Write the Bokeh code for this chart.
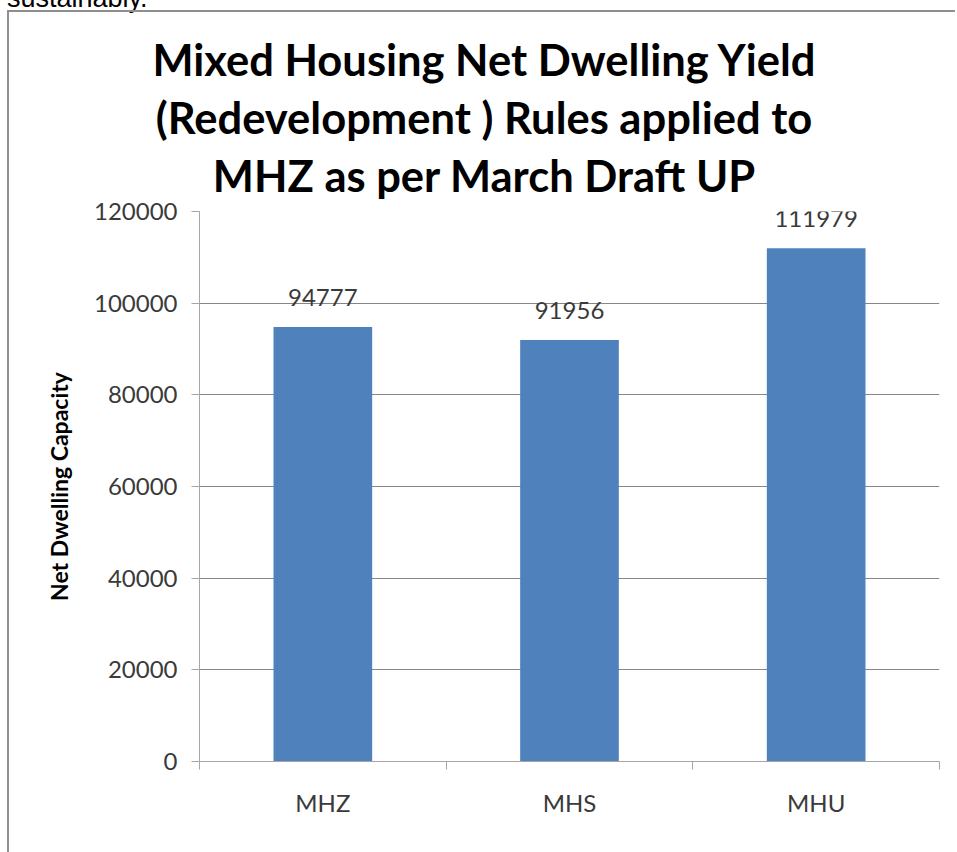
from bokeh.plotting import figure
from bokeh.layouts import column
from bokeh.models import (ColumnDataSource, FixedTicker, Range1d,
                          NumeralTickFormatter, Div)
from bokeh.core.properties import value
from bokeh.embed import file_html
from bokeh.resources import INLINE

categories = ["MHZ", "MHS", "MHU"]
values = [94777, 91956, 111979]
y_ticks = [0, 20000, 40000, 60000, 80000, 100000, 120000]
title_lines = ["Mixed Housing Net Dwelling Yield",
               "(Redevelopment ) Rules applied to",
               "MHZ as per March Draft UP"]
y_label = "Net Dwelling Capacity"
page_text = "sustainably."

Y_MAX = 120000
N = len(categories)
xpos = [i + 0.5 for i in range(N)]
bounds = [float(i) for i in range(N + 1)]
src = ColumnDataSource(dict(x=xpos, top=values, label=[str(v) for v in values]))

FONT = "Lato"
GRAY = "#a6a6a6"
TXT = "#3a3a3a"
BORDER = "2px solid #8f8f8f"

# ---- header (page text, chart border, three-line title) ----
HEAD_H = 194
title_html = "<br>".join(title_lines)
head = Div(
    text=(
        f'<div style="position:relative; width:957px; height:{HEAD_H}px; overflow:visible;">'
        f'<div style="position:absolute; left:7px; top:-17px; font-family:\'Liberation Sans\', Arial, sans-serif; '
        f'font-size:27px; line-height:30px; color:#000; white-space:nowrap;">{page_text}</div>'
        f'<div style="position:absolute; left:7px; top:10px; width:948px; height:{HEAD_H - 10}px; '
        f'border-top:{BORDER}; border-left:{BORDER};"></div>'
        f'<div style="position:absolute; left:0px; width:968px; top:30px; text-align:center; '
        f'font-family:Lato, sans-serif; font-weight:bold; font-size:43.5px; line-height:58px; '
        f'color:#000; white-space:nowrap;">{title_html}</div>'
        f'</div>'
    ),
    width=957, height=HEAD_H, margin=(0, 0, 0, 0),
    styles={"overflow": "visible"},
)

# ---- chart ----
W, H = 948, 852 - HEAD_H
ML, MR, MT, MB = 190, 18, 17, 91

p = figure(width=W, height=H, output_backend="svg", toolbar_location=None,
           x_range=Range1d(0, N), y_range=Range1d(0, Y_MAX),
           min_border_left=ML, min_border_right=MR, min_border_top=MT,
           min_border_bottom=MB, background_fill_color=None,
           border_fill_color=None)
p.outline_line_color = None
p.margin = (0, 0, 0, 7)
p.styles = {"border-left": BORDER}

p.vbar(x="x", top="top", width=0.4, source=src, fill_color="#4F81BD",
       line_color=None)
p.text(x="x", y="top", text="label", source=src, text_align="center",
       text_baseline="alphabetic", y_offset=-30, text_font=value(FONT),
       text_font_size="24px", text_color=TXT)

# x axis: labels at category centres, tick marks at category boundaries
p.xaxis.ticker = FixedTicker(ticks=xpos, minor_ticks=bounds)
p.xaxis.major_label_overrides = {xv: c for xv, c in zip(xpos, categories)}
p.xaxis.major_tick_line_color = None
p.xaxis.major_tick_out = 0
p.xaxis.major_tick_in = 0
p.xaxis.minor_tick_out = 8
p.xaxis.minor_tick_in = 0
p.xaxis.minor_tick_line_color = GRAY
p.xaxis.axis_line_color = GRAY
p.xaxis.major_label_text_font = FONT
p.xaxis.major_label_text_font_size = "24px"
p.xaxis.major_label_text_color = TXT
p.xaxis.major_label_standoff = 18
p.xgrid.grid_line_color = None

# y axis
p.yaxis.ticker = FixedTicker(ticks=y_ticks, minor_ticks=[])
p.yaxis.formatter = NumeralTickFormatter(format="0")
p.yaxis.major_tick_out = 8
p.yaxis.major_tick_in = 0
p.yaxis.major_tick_line_color = GRAY
p.yaxis.axis_line_color = GRAY
p.yaxis.major_label_text_font = FONT
p.yaxis.major_label_text_font_size = "24px"
p.yaxis.major_label_text_color = TXT
p.yaxis.major_label_standoff = 14
p.yaxis.axis_label = y_label
p.yaxis.axis_label_text_font = FONT
p.yaxis.axis_label_text_font_size = "23px"
p.yaxis.axis_label_text_font_style = "bold"
p.yaxis.axis_label_text_color = "black"
p.yaxis.axis_label_standoff = 18
p.ygrid.ticker = FixedTicker(ticks=y_ticks, minor_ticks=[])
p.ygrid.grid_line_color = "#868686"

layout = column(head, p, spacing=0)
open("out.html", "w").write(file_html(layout, INLINE))
